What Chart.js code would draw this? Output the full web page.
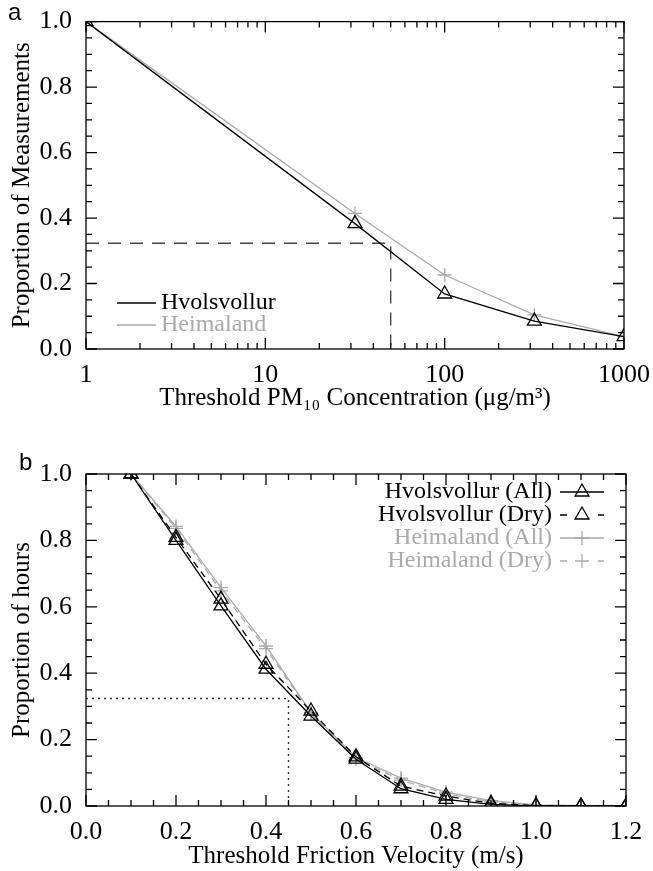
<!DOCTYPE html>
<html><head><meta charset="utf-8">
<script src="https://cdn.jsdelivr.net/npm/chart.js@4/dist/chart.umd.min.js"></script>
<style>
html,body{margin:0;padding:0;background:#fff;}
#wa{position:absolute;left:0;top:0;width:653px;height:430px;}
#wb{position:absolute;left:0;top:430px;width:653px;height:441px;}
</style></head><body>
<div id="wa"><canvas id="ca"></canvas></div>
<div id="wb"><canvas id="cb"></canvas></div>
<script>
// ---------- Panel a data ----------
const pmThresholds = [1, 31.62, 100, 316.2, 1000];
const hvolsvollurPM = [1.0, 0.383, 0.168, 0.085, 0.038];
const heimalandPM   = [1.0, 0.414, 0.226, 0.104, 0.038];
const refPMx = [1, 50, 50];
const refPMy = [0.323, 0.323, 0];
const pmTickLabels = [1, 10, 100, 1000];

// ---------- Panel b data ----------
const ustar = [0.1, 0.2, 0.3, 0.4, 0.5, 0.6, 0.7, 0.8, 0.9, 1.0, 1.1, 1.2];
const hvolsAll = [1.0, 0.800, 0.603, 0.412, 0.271, 0.141, 0.052, 0.020, 0.005, 0, 0, 0];
const hvolsDry = [1.0, 0.809, 0.623, 0.427, 0.286, 0.148, 0.060, 0.030, 0.008, 0.001, 0, 0];
const heimAll  = [1.0, 0.842, 0.658, 0.482, 0.281, 0.146, 0.084, 0.042, 0.016, 0.003, 0.001, 0];
const heimDry  = [1.0, 0.836, 0.648, 0.474, 0.278, 0.142, 0.078, 0.037, 0.012, 0.002, 0, 0];
const refUx = [0, 0.45, 0.45];
const refUy = [0.324, 0.324, 0];
const ustarTickLabels = [0, 0.2, 0.4, 0.6, 0.8, 1.0, 1.2];
const yTickLabels = [0, 0.2, 0.4, 0.6, 0.8, 1.0];

const GRAY = '#aaaaaa';
const SERIF = "'Liberation Serif', 'Times New Roman', serif";
const TICK_SIZE = 26, TITLE_SIZE = 25, LEGEND_SIZE = 24;
Chart.defaults.font.family = SERIF;
Chart.defaults.font.size = 24;
Chart.defaults.color = '#000';
Chart.defaults.animation = false;

const pts = (xs, ys) => xs.map((x, i) => ({x: x, y: ys[i]}));

function drawMarker(ctx, style, x, y, r, color, lw) {
  ctx.save();
  ctx.strokeStyle = color; ctx.lineWidth = lw; ctx.setLineDash([]);
  ctx.beginPath();
  if (style === 'triangle') {
    const a = Math.PI * 2 / 3;
    for (let k = 0; k < 3; k++) {
      const px = x + Math.sin(k * a) * r, py = y - Math.cos(k * a) * r;
      if (k === 0) ctx.moveTo(px, py); else ctx.lineTo(px, py);
    }
    ctx.closePath();
  } else {
    ctx.moveTo(x - r, y); ctx.lineTo(x + r, y);
    ctx.moveTo(x, y - r); ctx.lineTo(x, y + r);
  }
  ctx.stroke();
  ctx.restore();
}

// frame + inward ticks (IDL style)
const frameTicks = {
  id: 'frameTicks',
  afterDatasetsDraw(chart, args, o) {
    const {ctx, chartArea: a, scales} = chart;
    const xs = scales.x, ys = scales.y;
    ctx.save();
    ctx.strokeStyle = '#000';
    ctx.lineWidth = 1.3;
    ctx.setLineDash([]);
    ctx.strokeRect(a.left, a.top, a.right - a.left, a.bottom - a.top);
    ctx.beginPath();
    const tx = (v, len) => {
      const p = xs.getPixelForValue(v);
      ctx.moveTo(p, a.bottom); ctx.lineTo(p, a.bottom - len);
      ctx.moveTo(p, a.top); ctx.lineTo(p, a.top + len);
    };
    const ty = (v, len) => {
      const p = ys.getPixelForValue(v);
      ctx.moveTo(a.left, p); ctx.lineTo(a.left + len, p);
      ctx.moveTo(a.right, p); ctx.lineTo(a.right - len, p);
    };
    if (o.logX) {
      [1, 10, 100].forEach(d => { for (let m = 2; m <= 9; m++) tx(d * m, 6); });
      [1, 10, 100, 1000].forEach(v => tx(v, 11));
    } else {
      for (let i = 0; i <= 24; i++) tx(i * 0.05, i % 4 === 0 ? 11 : 6);
    }
    for (let i = 0; i <= 20; i++) ty(i * 0.05, i % 4 === 0 ? 11 : 6);
    ctx.stroke();
    // panel letter
    ctx.fillStyle = '#000';
    ctx.font = "24px 'Liberation Sans', Arial, sans-serif";
    ctx.textAlign = 'left'; ctx.textBaseline = 'alphabetic';
    ctx.fillText(o.letter, o.lx, o.ly);
    ctx.restore();
  }
};

// legend drawn inside the plot area from dataset styles
const innerLegend = {
  id: 'innerLegend',
  afterDatasetsDraw(chart, args, o) {
    const ctx = chart.ctx;
    ctx.save();
    ctx.font = LEGEND_SIZE + 'px ' + SERIF;
    ctx.textBaseline = 'middle';
    o.items.forEach((it, i) => {
      const ds = chart.data.datasets[it];
      const y = o.y0 + i * o.dy;
      ctx.fillStyle = ds.borderColor;
      ctx.strokeStyle = ds.borderColor;
      ctx.lineWidth = 1.3;
      if (o.align === 'left') {
        ctx.setLineDash([]);
        ctx.beginPath(); ctx.moveTo(o.x0, y); ctx.lineTo(o.x1, y); ctx.stroke();
        ctx.textAlign = 'left';
        ctx.fillText(ds.label, o.x1 + 5, y);
      } else {
        ctx.textAlign = 'right';
        ctx.fillText(ds.label, o.tx, y);
        ctx.setLineDash([]);
        ctx.beginPath();
        if (ds.borderDash && ds.borderDash.length) {
          ctx.moveTo(o.x0, y); ctx.lineTo(o.x0 + 7, y);
          ctx.moveTo(o.x1 - 6, y); ctx.lineTo(o.x1, y);
        } else {
          ctx.moveTo(o.x0, y); ctx.lineTo(o.x1, y);
        }
        ctx.stroke();
        drawMarker(ctx, ds.pointStyle, (o.x0 + o.x1) / 2, y, ds.pointStyle === 'triangle' ? 8 : 7, ds.borderColor, 1.3);
      }
    });
    ctx.restore();
  }
};

function yScale(title) {
  return {
    min: 0, max: 1,
    afterFit: s => { s.width = 86; },
    grid: {display: false},
    border: {display: false},
    ticks: {stepSize: 0.2, padding: 6, color: '#000', font: {size: TICK_SIZE},
      callback: v => yTickLabels.some(t => Math.abs(t - v) < 1e-6) ? Number(v).toFixed(1) : ''},
    title: {display: true, text: title, color: '#000', font: {size: TITLE_SIZE}, padding: {top: 7, bottom: 0}}
  };
}

function series(label, xs, ys, color, style, dash) {
  return {
    label: label, data: pts(xs, ys),
    borderColor: color, backgroundColor: color, borderWidth: 1.3,
    borderDash: dash || [], tension: 0, clip: 0,
    pointStyle: style, pointRadius: style === 'triangle' ? 8 : 7,
    pointBorderColor: color, pointBackgroundColor: 'rgba(0,0,0,0)', pointBorderWidth: 1.3,
    pointHoverRadius: 0
  };
}

// ---------------- Chart a ----------------
new Chart(document.getElementById('ca'), {
  type: 'line',
  data: {
    datasets: [
      series('Hvolsvollur', pmThresholds, hvolsvollurPM, '#000', 'triangle'),
      series('Heimaland', pmThresholds, heimalandPM, GRAY, 'cross'),
      {label: 'ref', data: pts(refPMx, refPMy), borderColor: '#444', borderWidth: 1.4,
       borderDash: [13, 9], pointRadius: 0, tension: 0, clip: 0}
    ]
  },
  options: {
    responsive: true, maintainAspectRatio: false, animation: false,
    layout: {padding: {left: 0, right: 27, top: 17, bottom: 0}},
    scales: {
      x: {
        type: 'logarithmic', min: 1, max: 1000,
        afterFit: s => { s.height = 81; },
        grid: {display: false}, border: {display: false},
        ticks: {autoSkip: false, maxRotation: 0, padding: 3, color: '#000', font: {size: TICK_SIZE},
          callback: v => pmTickLabels.some(t => Math.abs(t - v) < 1e-6) ? String(Math.round(v)) : ''},
        title: {display: true, text: 'Threshold PM\u2081\u2080 Concentration (\u03BCg/m\u00B3)', color: '#000',
          font: {size: TITLE_SIZE}, padding: {top: 0, bottom: 17}}
      },
      y: yScale('Proportion of Measurements')
    },
    plugins: {
      legend: {display: false}, tooltip: {enabled: false},
      frameTicks: {logX: true, letter: 'a', lx: 8, ly: 20},
      innerLegend: {items: [0, 1], align: 'left', x0: 117, x1: 156, y0: 303, dy: 22}
    }
  },
  plugins: [frameTicks, innerLegend]
});

// ---------------- Chart b ----------------
new Chart(document.getElementById('cb'), {
  type: 'line',
  data: {
    datasets: [
      series('Hvolsvollur (All)', ustar, hvolsAll, '#000', 'triangle'),
      series('Hvolsvollur (Dry)', ustar, hvolsDry, '#000', 'triangle', [7, 5]),
      series('Heimaland (All)', ustar, heimAll, GRAY, 'cross'),
      series('Heimaland (Dry)', ustar, heimDry, GRAY, 'cross', [7, 5]),
      {label: 'ref', data: pts(refUx, refUy), borderColor: '#333', borderWidth: 1.4,
       borderDash: [2, 4], pointRadius: 0, tension: 0, clip: 0}
    ]
  },
  options: {
    responsive: true, maintainAspectRatio: false, animation: false,
    layout: {padding: {left: 0, right: 27, top: 44, bottom: 0}},
    scales: {
      x: {
        type: 'linear', min: 0, max: 1.2,
        afterFit: s => { s.height = 65; },
        grid: {display: false}, border: {display: false},
        ticks: {stepSize: 0.2, autoSkip: false, maxRotation: 0, padding: 3, color: '#000', font: {size: TICK_SIZE},
          callback: v => ustarTickLabels.some(t => Math.abs(t - v) < 1e-6) ? Number(v).toFixed(1) : ''},
        title: {display: true, text: 'Threshold Friction Velocity (m/s)', color: '#000',
          font: {size: TITLE_SIZE}, padding: {top: 0, bottom: 0}}
      },
      y: yScale('Proportion of hours')
    },
    plugins: {
      legend: {display: false}, tooltip: {enabled: false},
      frameTicks: {logX: false, letter: 'b', lx: 19, ly: 40},
      innerLegend: {items: [0, 1, 2, 3], align: 'right', tx: 552, x0: 560, x1: 604, y0: 62, dy: 23}
    }
  },
  plugins: [frameTicks, innerLegend]
});
</script>
</body></html>
